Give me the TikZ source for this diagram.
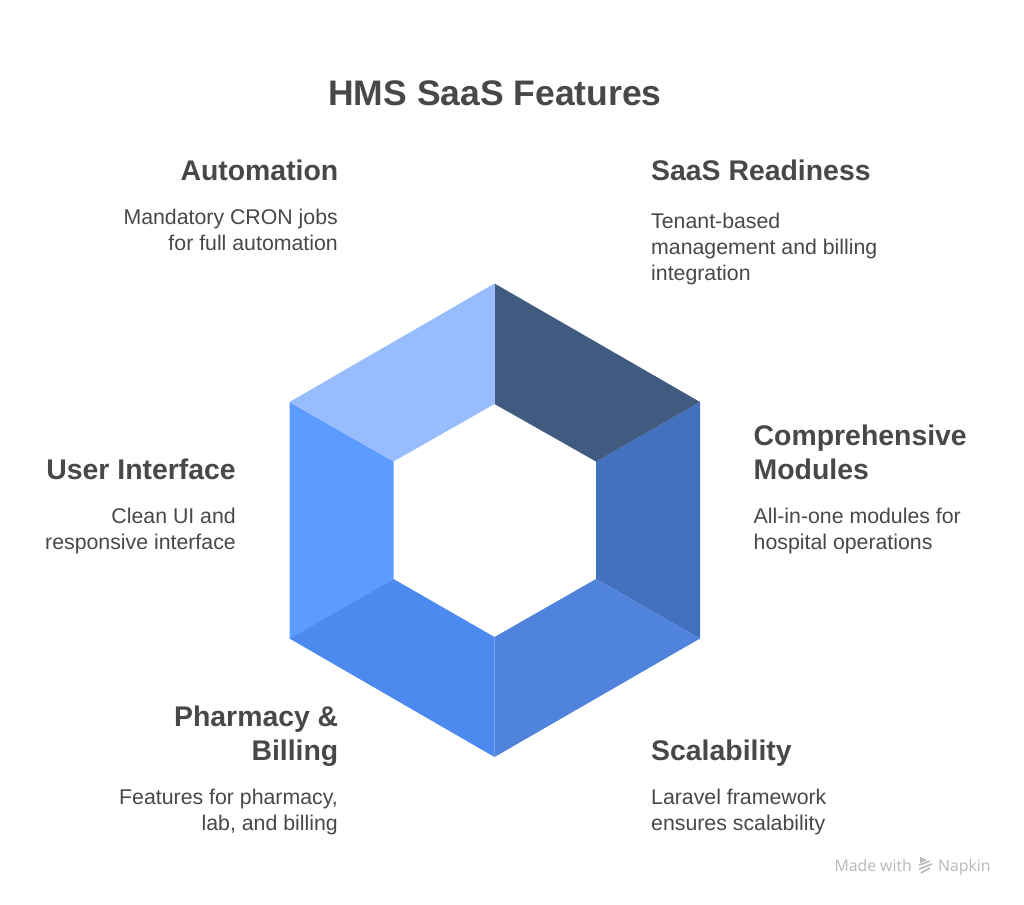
\documentclass[tikz,border=0pt]{standalone}
\usepackage{fontspec}
\setmainfont{Liberation Sans}
\newfontfamily\logofont{Open Sans}
\definecolor{inkgray}{HTML}{484848}
\definecolor{logogray}{HTML}{B8B8B8}
\definecolor{segA}{HTML}{415A80}
\definecolor{segB}{HTML}{4471BF}
\definecolor{segC}{HTML}{5083DC}
\definecolor{segD}{HTML}{4C8AEF}
\definecolor{segE}{HTML}{5C9BFF}
\definecolor{segF}{HTML}{97BDFF}
\tikzset{
  headtext/.style={inner sep=0pt,text=inkgray,font=\fontsize{28.4}{34}\selectfont\bfseries},
  bodytext/.style={inner sep=0pt,text=inkgray,font=\fontsize{21.3}{26}\selectfont},
}
\begin{document}
\begin{tikzpicture}[x=1pt,y=-1pt]
\useasboundingbox (0,0) rectangle (1024,904);
\fill[white] (0,0) rectangle (1024,904);
% outer corners
\coordinate (T) at (494.5,283.5);
\coordinate (TR) at (700,402);
\coordinate (BR) at (700,638.5);
\coordinate (B) at (494.5,757);
\coordinate (BL) at (289.5,638.5);
\coordinate (TL) at (289.5,402);
% inner corners
\coordinate (t) at (494.5,404);
\coordinate (tr) at (596,461.5);
\coordinate (br) at (596,579);
\coordinate (b) at (494.5,637);
\coordinate (bl) at (393.5,579);
\coordinate (tl) at (393.5,461.5);
\fill[segB] (TR)--(BR)--(br)--(tr)--cycle;
\fill[segE] (TL)--(BL)--(bl)--(tl)--cycle;
\fill[segC] (BR)--(B)--(b)--(br)--cycle;
\fill[segD] (B)--(BL)--(bl)--(b)--cycle;
\fill[segA] (T)--(TR)--(tr)--(t)--cycle;
\fill[segF] (TL)--(T)--(t)--(tl)--cycle;
% labels
\node[inner sep=0pt,text=inkgray,font=\fontsize{35.5}{40}\selectfont\bfseries] (title) at (495,93.5) {HMS SaaS Features};
\node[headtext,anchor=north east] (autohead) at (338.5,160) {Automation};
\node[bodytext,anchor=north east,align=right] (autotext) at (338,209) {Mandatory CRON jobs\\for full automation};
\node[headtext,anchor=north west] (saashead) at (651,160) {SaaS Readiness};
\node[bodytext,anchor=north west,align=left] (saastext) at (651,213) {Tenant-based\\management and billing\\integration};
\node[headtext,anchor=north west,align=left] (modhead) at (753.5,424.5) {Comprehensive\\Modules};
\node[bodytext,anchor=north west,align=left] (modtext) at (753.5,508) {All-in-one modules for\\hospital operations};
\node[headtext,anchor=north east] (uihead) at (236,459) {User Interface};
\node[bodytext,anchor=north east,align=right] (uitext) at (236,508) {Clean UI and\\responsive interface};
\node[headtext,anchor=north east,align=right] (pharmhead) at (338.5,706) {Pharmacy \&\\Billing};
\node[bodytext,anchor=north east,align=right] (pharmtext) at (338,789) {Features for pharmacy,\\lab, and billing};
\node[headtext,anchor=north west] (scalehead) at (651,740) {Scalability};
\node[bodytext,anchor=north west,align=left] (scaletext) at (651,789) {Laravel framework\\ensures scalability};
% logo
\node[inner sep=0pt,anchor=base east,text=logogray,font=\fontsize{15.8}{18}\selectfont\logofont] (madewith) at (912,871) {Made with};
\node[inner sep=0pt,anchor=base west,text=logogray,font=\fontsize{15.8}{18}\selectfont\logofont] (napkin) at (938,871) {Napkin};
\fill[logogray] (920,857)--(927,860)--(920,863)--cycle;
\draw[logogray,line width=1.6pt] (919,865)--(930,861);
\draw[logogray,line width=1.6pt] (919,869)--(932,864);
\draw[logogray,line width=1.6pt] (921,873)--(930,868);
\end{tikzpicture}
\end{document}
